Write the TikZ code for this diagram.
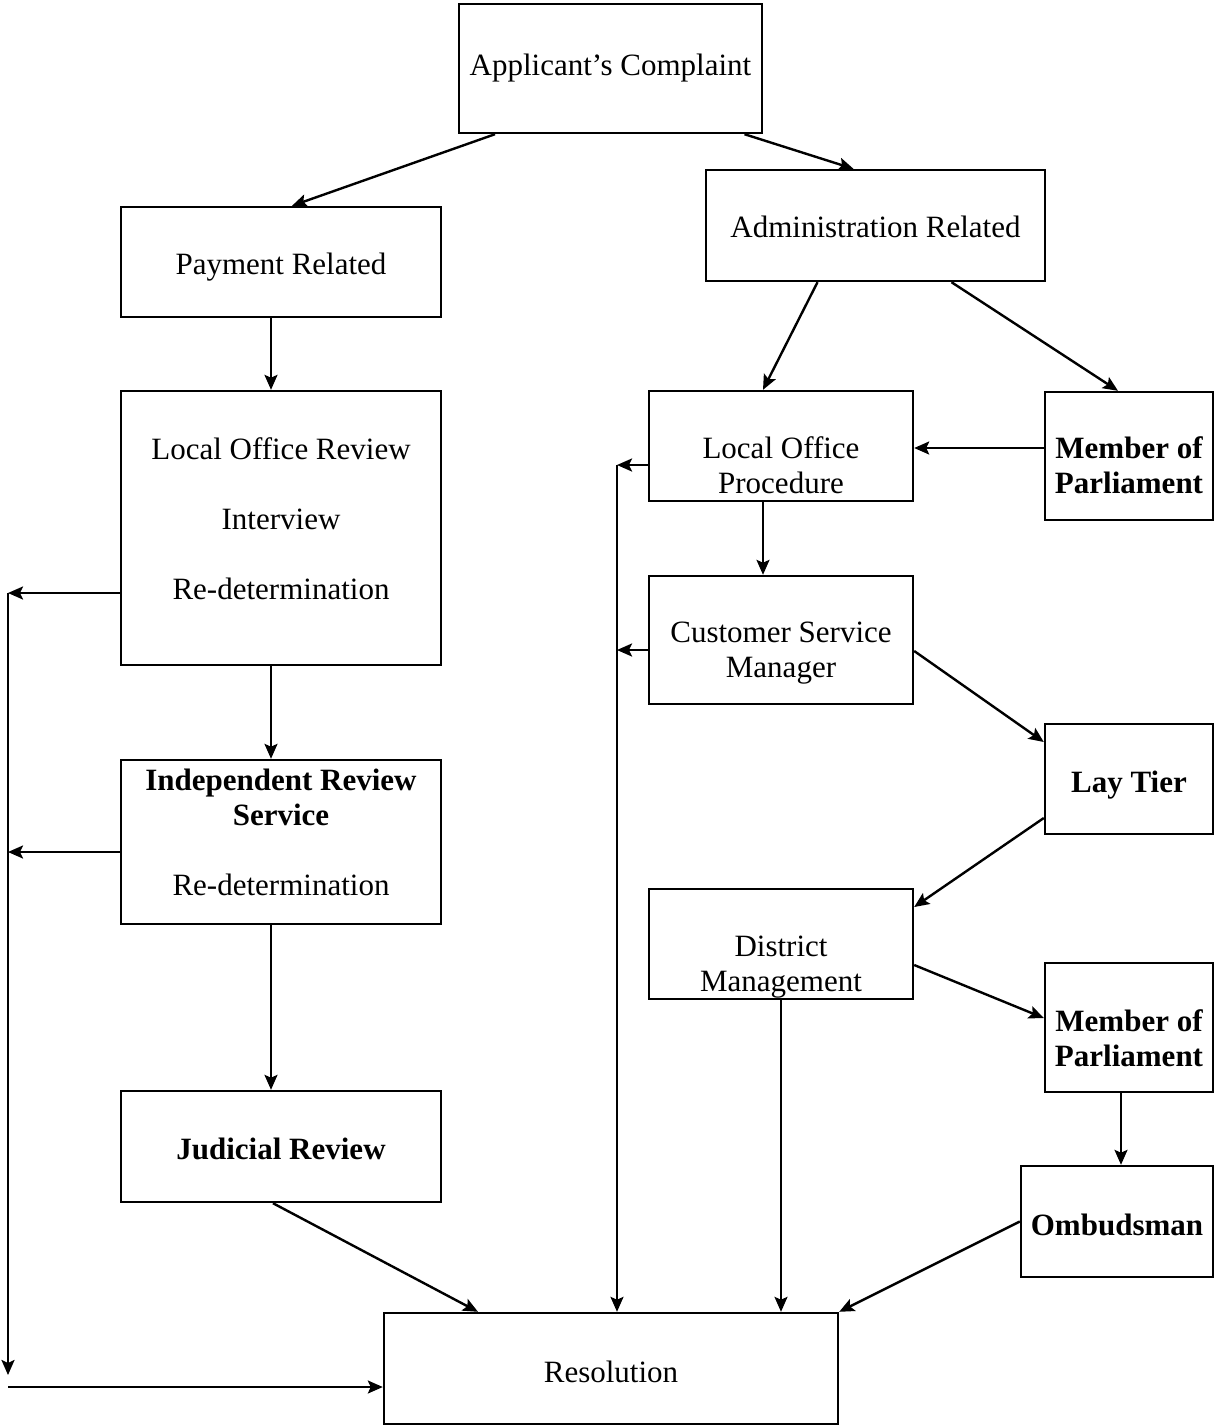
\documentclass[tikz,border=0pt]{standalone}
\usepackage{fontspec}
\setmainfont{Liberation Serif}
\usepackage{tikz}
\usetikzlibrary{arrows.meta, calc}
% struts to move a box text down / up
\newcommand\dropby[1]{\rule{0pt}{\dimexpr 10.6pt+#1*2\relax}}
\newcommand\liftby[1]{\rule[-\dimexpr #1*2\relax]{0pt}{0pt}}

\begin{document}
\begin{tikzpicture}[
  x=0.5pt, y=-0.5pt,
  box/.style={draw=black, line width=1.2pt, fill=white, inner sep=0pt, align=center, font=\fontsize{15.5}{17.5}\selectfont},
  bbox/.style={box, font=\fontsize{15.5}{17.5}\selectfont\bfseries},
  link/.style={-{Stealth[length=7.5pt, width=6.5pt, inset=1.5pt]}, line width=1.2pt, black}
]
  \useasboundingbox (0,0) rectangle (1215,1426);

  % left column
  \node[box, minimum width=151.5pt, minimum height=64.5pt] (app) at (610.5, 68.5) {Applicant’s Complaint};
  \node[box, minimum width=160pt, minimum height=55pt] (pay) at (281, 262) {\dropby{2.5pt}Payment Related};
  \node[box, minimum width=160pt, minimum height=137pt] (lor) at (281, 528) {
    Local Office Review\\[17.5pt]
    Interview\\[17.5pt]
    Re-determination\liftby{4.5pt}
  };
  \node[box, minimum width=160pt, minimum height=82pt] (irs) at (281, 842) {
    \textbf{Independent Review}\\
    \textbf{Service}\\[17.5pt]
    Re-determination\liftby{5pt}
  };
  \node[bbox, minimum width=160pt, minimum height=55.5pt] (jr) at (281, 1146.5) {\dropby{1.5pt}Judicial Review};

  % right column
  \node[box, minimum width=169.5pt, minimum height=55.5pt] (adm) at (875.5, 225.5) {\dropby{1pt}Administration Related};
  \node[box, minimum width=132pt, minimum height=55pt] (lop) at (781, 446) {\dropby{10pt}Local Office\\Procedure};
  \node[bbox, minimum width=84pt, minimum height=64pt] (mpa) at (1129, 456) {\dropby{5pt}Member of\\Parliament};
  \node[box, minimum width=132pt, minimum height=64pt] (csm) at (781, 640) {\dropby{6.5pt}Customer Service\\Manager};
  \node[bbox, minimum width=84pt, minimum height=55pt] (lay) at (1129, 779) {\dropby{3pt}Lay Tier};
  \node[box, minimum width=132pt, minimum height=55pt] (dm) at (781, 944) {\dropby{11.5pt}District\\Management};
  \node[bbox, minimum width=84pt, minimum height=64.5pt] (mpb) at (1129, 1027.5) {\dropby{5.5pt}Member of\\Parliament};
  \node[bbox, minimum width=96pt, minimum height=55.5pt] (omb) at (1117, 1221.5) {\dropby{2pt}Ombudsman};

  \node[box, minimum width=227pt, minimum height=55.5pt] (res) at (611, 1368.5) {\dropby{2pt}Resolution};

  % return lines
  \coordinate (lefttop) at (8, 593);
  \coordinate (leftend) at (8, 1375);
  \coordinate (leftin) at (8, 1387);
  \coordinate (midtop) at (617, 465);

  \draw[link] ([xshift=-57.75pt]app.south) -- ([xshift=5.5pt]pay.north);
  \draw[link] ([xshift=67pt]app.south) -- ([xshift=-11pt]adm.north);
  \draw[link] ([xshift=-5pt]pay.south) -- ([xshift=-5pt]lor.north);
  \draw[link] ([xshift=-5pt]lor.south) -- ([xshift=-5pt]irs.north);
  \draw[link] ([xshift=-5pt]irs.south) -- ([xshift=-5pt]jr.north);
  \draw[link] ([xshift=-4pt]jr.south) -- ([xshift=-66.5pt]res.north);

  \draw[link] ([xshift=-29pt]adm.south) -- ([xshift=-9pt]lop.north);
  \draw[link] ([xshift=38pt]adm.south) -- ([xshift=-5.5pt]mpa.north);
  \draw[link] ([yshift=-1pt]lop.east -| mpa.west) -- ([yshift=-1pt]lop.east);
  \draw[link] ([xshift=-9pt]lop.south) -- ([xshift=-9pt]csm.north);
  \draw[link] ([yshift=-5.5pt]csm.east) -- ([yshift=18.5pt]lay.west);
  \draw[link] ([yshift=-19.5pt]lay.west) -- ([yshift=18.5pt]dm.east);
  \draw[link] ([yshift=-10.5pt]dm.east) -- ([yshift=4.75pt]mpb.west);
  \draw[link] ([xshift=-4pt]mpb.south) -- ([xshift=-4pt]mpb.south |- omb.north);
  \draw[link] (omb.west) -- (res.north east);
  \draw[link] (dm.south) -- (dm.south |- res.north);

  \draw[link] ([yshift=-32.5pt]lor.west) -- (lefttop);
  \draw[link] ([yshift=-5pt]irs.west) -- ([yshift=-5pt]irs.west -| lefttop);
  \draw[link] (lefttop) -- (leftend);
  \draw[link] (leftin) -- (leftin -| res.west);

  \draw[link] ([yshift=-9.5pt]lop.west) -- (midtop);
  \draw[link] ([yshift=-5pt]csm.west) -- ([yshift=-5pt]csm.west -| midtop);
  \draw[link] (midtop) -- (midtop |- res.north);
\end{tikzpicture}
\end{document}
